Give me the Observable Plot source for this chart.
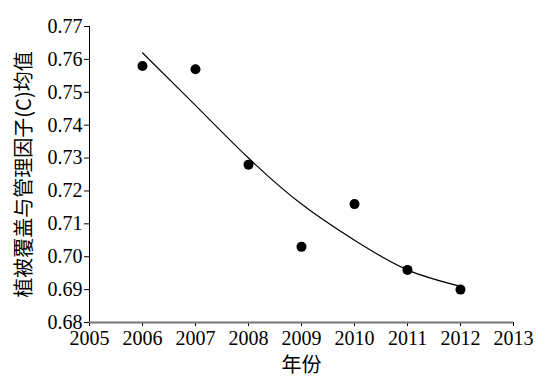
<!DOCTYPE html>
<html><head><meta charset="utf-8">
<script src="https://cdn.jsdelivr.net/npm/d3@7"></script>
<script src="https://cdn.jsdelivr.net/npm/@observablehq/plot@0.6"></script>
<style>body{margin:0;background:#fff}</style>
</head><body><div id="chart"></div>
<script>
const years = [2006, 2007, 2008, 2009, 2010, 2011, 2012];
const cValues = [0.758, 0.757, 0.728, 0.703, 0.716, 0.696, 0.690];
const trendValues = [0.762, 0.746, 0.730, 0.716, 0.705, 0.696, 0.691];
const xTicks = [2005, 2006, 2007, 2008, 2009, 2010, 2011, 2012, 2013];
const yTicks = [0.68, 0.69, 0.70, 0.71, 0.72, 0.73, 0.74, 0.75, 0.76, 0.77];
const xLabel = "年份";
const yLabel = "植被覆盖与管理因子(C)均值";

const pts = years.map((y, i) => ({year: y, c: cValues[i]}));
const trend = years.map((y, i) => ({year: y, c: trendValues[i]}));

const chart = Plot.plot({
  width: 550, height: 384,
  marginLeft: 89, marginRight: 37, marginTop: 26, marginBottom: 62,
  style: {fontFamily: "'Liberation Serif', 'Times New Roman', serif", fontSize: "20px", color: "#000", background: "#fff"},
  x: {domain: [2005, 2013]},
  y: {domain: [0.68, 0.77]},
  marks: [
    Plot.axisX({ticks: xTicks, tickFormat: "d", tickSize: 4, tickPadding: 4, fontSize: 20, label: null}),
    Plot.axisY({ticks: yTicks, tickFormat: ".2f", tickSize: 5, tickPadding: 2, fontSize: 20, label: null}),
    Plot.ruleX([2005], {stroke: "#000", strokeWidth: 1}),
    Plot.ruleY([0.68], {stroke: "#777", strokeWidth: 2}),
    Plot.line(trend, {x: "year", y: "c", curve: "natural", stroke: "#000", strokeWidth: 1.2}),
    Plot.dot(pts, {x: "year", y: "c", r: 5, fill: "#000", stroke: "none"}),
    Plot.text([xLabel], {frameAnchor: "bottom", dy: 49, fontSize: 20, fontFamily: "'Noto Sans CJK SC', sans-serif", text: d => d}),
    Plot.text([yLabel], {frameAnchor: "left", textAnchor: "middle", dx: -65, rotate: -90, fontSize: 20, fontFamily: "'Noto Sans CJK SC', sans-serif", text: d => d})
  ]
});
document.getElementById("chart").append(chart);
</script>
</body></html>
